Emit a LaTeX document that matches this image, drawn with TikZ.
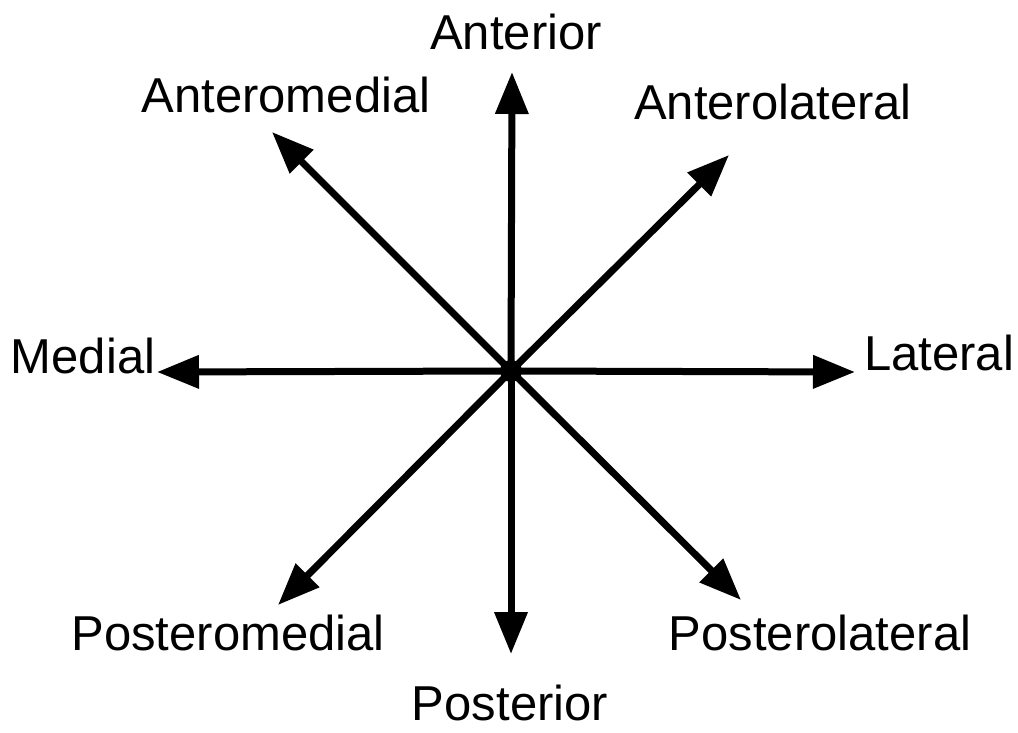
\documentclass[tikz,border=0pt]{standalone}
\usepackage{fontspec}
\setmainfont{Liberation Sans}
\usetikzlibrary{arrows.meta}
\tikzset{
  dirarrow/.style={line width=7pt,-{Triangle[length=42pt,width=32pt]}},
  dirlabel/.style={anchor=base,inner sep=0pt,font=\fontsize{49}{58}\selectfont}
}
\begin{document}
\begin{tikzpicture}[x=1pt,y=-1pt]
\useasboundingbox[fill=white] (0,0) rectangle (1018,733);
\node[circle,fill=black,inner sep=0pt,minimum size=22pt] (c) at (511,371) {};
\coordinate (tN) at (512,72);
\coordinate (tS) at (511,654);
\coordinate (tW) at (157,372);
\coordinate (tE) at (855,372);
\coordinate (tNW) at (272,132);
\coordinate (tNE) at (729,155);
\coordinate (tSW) at (278,605);
\coordinate (tSE) at (741,600);
\foreach \t in {tN,tS,tW,tE,tNW,tNE,tSW,tSE}
  \draw[dirarrow] (c.center) -- (\t);
\node[dirlabel] (lN) at (516,50) {Anterior};
\node[dirlabel] (lNW) at (286,113) {Anteromedial};
\node[dirlabel] (lNE) at (773,120) {Anterolateral};
\node[dirlabel] (lW) at (83,373) {Medial};
\node[dirlabel] (lE) at (939,370) {Lateral};
\node[dirlabel] (lSW) at (228,650) {Posteromedial};
\node[dirlabel] (lSE) at (820,650) {Posterolateral};
\node[dirlabel] (lS) at (510,720) {Posterior};
\end{tikzpicture}
\end{document}
